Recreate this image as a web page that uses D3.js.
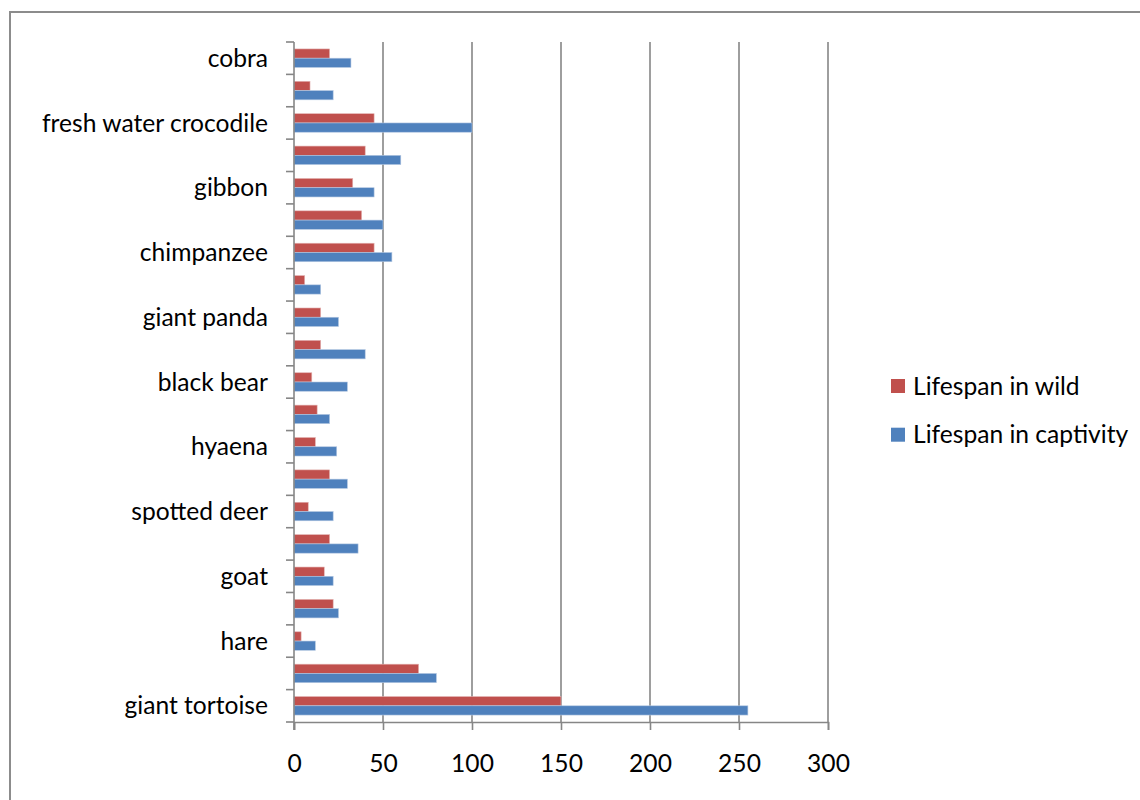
<!DOCTYPE html>
<html>
<head>
<meta charset="utf-8">
<script src="https://cdn.jsdelivr.net/npm/d3@7"></script>
<style>
  html, body { margin: 0; padding: 0; background: #fff; }
  svg { display: block; font-family: Lato, "Open Sans", sans-serif; }
</style>
</head>
<body>
<svg id="chart" width="1140" height="800"></svg>
<script>
// Animals, listed from the bottom of the chart to the top
const animals = [
  "giant tortoise", "elephant", "hare", "horse", "goat", "cow",
  "spotted deer", "lion", "hyaena", "wolf", "black bear", "tiger",
  "giant panda", "squirrel", "chimpanzee", "orangutan", "gibbon",
  "gorilla", "fresh water crocodile", "python", "cobra"
];
// Lifespan in years
const wildYears = [150, 70, 4, 22, 17, 20, 8, 20, 12, 13, 10, 15, 15, 6, 45, 38, 33, 40, 45, 9, 20];
const captivityYears = [255, 80, 12, 25, 22, 36, 22, 30, 24, 20, 30, 40, 25, 15, 55, 50, 45, 60, 100, 22, 32];
const seriesNames = ["Lifespan in wild", "Lifespan in captivity"];
const seriesColors = ["#C0504D", "#4F81BD"];
const xTicks = [0, 50, 100, 150, 200, 250, 300];

const svg = d3.select("#chart");
const gridColor = "#868686";
const fontSize = 24.6;

// Outer chart frame
svg.append("rect")
  .attr("x", 10).attr("y", 12)
  .attr("width", 1300).attr("height", 1000)
  .attr("fill", "none").attr("stroke", "#8c8c8c").attr("stroke-width", 2);

const plot = { left: 294, right: 828, top: 42, bottom: 722 };

const x = d3.scaleLinear().domain([0, 300]).range([plot.left, plot.right]);
const y = d3.scaleBand().domain(animals).range([plot.bottom, plot.top]).padding(0);
const ySeries = d3.scaleBand().domain(seriesNames).range([0, y.bandwidth()])
  .paddingInner(0).paddingOuter(0.75);

// Vertical gridlines
svg.append("g").selectAll("line")
  .data(xTicks.filter(d => d > 0))
  .join("line")
  .attr("x1", d => x(d)).attr("x2", d => x(d))
  .attr("y1", plot.top).attr("y2", plot.bottom)
  .attr("stroke", gridColor).attr("stroke-width", 1.6);

// Bars
const rows = animals.map((a, i) => ({ animal: a, values: [wildYears[i], captivityYears[i]] }));
const groups = svg.append("g").selectAll("g")
  .data(rows)
  .join("g")
  .attr("transform", d => `translate(0,${y(d.animal)})`);
groups.selectAll("rect")
  .data(d => d.values.map((v, k) => ({ name: seriesNames[k], value: v, k })))
  .join("rect")
  .attr("x", x(0))
  .attr("y", d => ySeries(d.name))
  .attr("width", d => x(d.value) - x(0))
  .attr("height", ySeries.bandwidth())
  .attr("fill", d => seriesColors[d.k])
  .attr("stroke", d => d.k === 0 ? "#e3b3b2" : "#b5c8e2")
  .attr("stroke-width", 0.6);

// Category axis: line, boundary ticks, every other label
const yAxis = svg.append("g");
yAxis.append("line")
  .attr("x1", plot.left).attr("x2", plot.left)
  .attr("y1", plot.top).attr("y2", plot.bottom + 8)
  .attr("stroke", gridColor).attr("stroke-width", 1.6);
const boundaries = animals.map(a => y(a)).concat([y(animals[0]) + y.bandwidth()]);
yAxis.selectAll("line.tick")
  .data(boundaries)
  .join("line")
  .attr("class", "tick")
  .attr("x1", plot.left - 8).attr("x2", plot.left)
  .attr("y1", d => d).attr("y2", d => d)
  .attr("stroke", gridColor).attr("stroke-width", 1.6);
yAxis.selectAll("text")
  .data(animals.filter((a, i) => i % 2 === 0))
  .join("text")
  .attr("x", 268)
  .attr("y", d => y(d) + y.bandwidth() / 2)
  .attr("dy", "0.35em")
  .attr("text-anchor", "end")
  .attr("font-size", fontSize)
  .attr("fill", "#000")
  .text(d => d);

// Value axis
const xAxis = svg.append("g")
  .attr("transform", `translate(0,${plot.bottom})`)
  .call(d3.axisBottom(x).tickValues(xTicks).tickSize(8).tickPadding(25).tickFormat(d3.format("d")));
xAxis.select(".domain").attr("stroke", gridColor).attr("stroke-width", 1.6);
xAxis.selectAll(".tick line").attr("stroke", gridColor).attr("stroke-width", 1.6);
xAxis.selectAll(".tick text")
  .attr("font-family", "Lato, 'Open Sans', sans-serif")
  .attr("font-size", fontSize).attr("fill", "#000");

// Legend
const legend = svg.append("g").selectAll("g")
  .data(seriesNames)
  .join("g")
  .attr("transform", (d, i) => `translate(891,${379 + i * 48.7})`);
legend.append("rect")
  .attr("width", 14).attr("height", 14)
  .attr("fill", (d, i) => seriesColors[i]);
legend.append("text")
  .attr("x", 22).attr("y", 7).attr("dy", "0.35em")
  .attr("font-size", fontSize).attr("fill", "#000")
  .text(d => d);
</script>
</body>
</html>
